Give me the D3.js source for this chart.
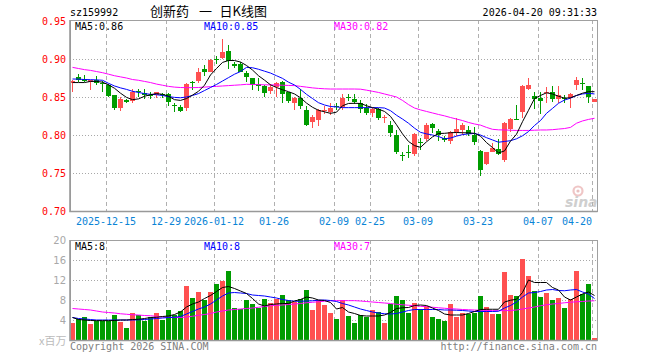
<!DOCTYPE html>
<meta charset="utf-8">
<script src="https://d3js.org/d3.v7.min.js"></script>
<style>
  body { margin: 0; background: #fff; }
  svg text { font-family: "DejaVu Sans Mono", monospace; font-size: 10px; }
</style>
<svg id="kline" width="660" height="360"></svg>

<script>
// trading days shown on the chart
const dates = [
  "2025-12-05","2025-12-08","2025-12-09","2025-12-10","2025-12-11","2025-12-12",
  "2025-12-15","2025-12-16","2025-12-17","2025-12-18","2025-12-19",
  "2025-12-22","2025-12-23","2025-12-24","2025-12-25","2025-12-26",
  "2025-12-29","2025-12-30","2025-12-31",
  "2026-01-05","2026-01-06","2026-01-07","2026-01-08","2026-01-09",
  "2026-01-12","2026-01-13","2026-01-14","2026-01-15","2026-01-16",
  "2026-01-19","2026-01-20","2026-01-21","2026-01-22","2026-01-23",
  "2026-01-26","2026-01-27","2026-01-28","2026-01-29","2026-01-30",
  "2026-02-02","2026-02-03","2026-02-04","2026-02-05","2026-02-06",
  "2026-02-09","2026-02-10","2026-02-11","2026-02-12","2026-02-13",
  "2026-02-24","2026-02-25","2026-02-26","2026-02-27",
  "2026-03-02","2026-03-03","2026-03-04","2026-03-05","2026-03-06",
  "2026-03-09","2026-03-10","2026-03-11","2026-03-12","2026-03-13",
  "2026-03-16","2026-03-17","2026-03-18","2026-03-19","2026-03-20",
  "2026-03-23","2026-03-24","2026-03-25","2026-03-26","2026-03-27",
  "2026-03-30","2026-03-31","2026-04-01","2026-04-02","2026-04-03",
  "2026-04-07","2026-04-08","2026-04-09","2026-04-10",
  "2026-04-13","2026-04-14","2026-04-15","2026-04-16","2026-04-17",
  "2026-04-20"
];

const open = [
  0.868,0.876,0.874,0.870,0.872,0.869,0.866,0.853,0.835,0.846,
  0.845,0.858,0.855,0.853,0.853,0.8535,0.8535,0.840,0.8373,0.836,
  0.8693,0.871,0.8868,0.8833,0.900,0.9009,0.9105,0.893,0.893,0.882,
  0.8754,0.8667,0.865,0.8583,0.8636,0.8702,0.8561,0.8417,0.8482,0.8329,
  0.8167,0.8193,0.8316,0.8307,0.8386,0.8373,0.8496,0.8474,0.8417,0.836,
  0.8294,0.8342,0.8228,0.8132,0.800,0.7737,0.7781,0.775,0.7912,0.7943,
  0.814,0.8053,0.7956,0.7921,0.8022,0.8066,0.8066,0.800,0.7789,0.7614,
  0.7781,0.7816,0.7671,0.8079,0.8211,0.8298,0.8605,0.8513,0.8482,0.8548,
  0.8561,0.8474,0.8491,0.8482,0.8658,0.8689,0.8649,0.8439
];
const high = [
  0.872,0.880,0.879,0.873,0.877,0.871,0.867,0.853,0.850,0.848,
  0.861,0.860,0.860,0.857,0.857,0.855,0.855,0.8417,0.8395,0.868,
  0.871,0.8877,0.892,0.900,0.9044,0.9263,0.919,0.8965,0.8965,0.8842,
  0.8754,0.8746,0.8658,0.8667,0.8693,0.871,0.857,0.8504,0.8605,0.8386,
  0.8263,0.8342,0.8386,0.8417,0.8417,0.8544,0.8535,0.8535,0.846,0.8404,
  0.8351,0.836,0.8263,0.8184,0.8066,0.7772,0.7868,0.8022,0.7956,0.8154,
  0.8154,0.8079,0.7991,0.8053,0.8219,0.8154,0.8123,0.811,0.7803,0.7781,
  0.789,0.7947,0.8167,0.822,0.8395,0.8658,0.8754,0.857,0.8561,0.8636,
  0.8649,0.8649,0.8526,0.8548,0.8768,0.8746,0.8649,0.8474
];
const low = [
  0.857,0.870,0.870,0.859,0.866,0.857,0.850,0.833,0.831,0.842,
  0.842,0.850,0.847,0.847,0.849,0.849,0.8386,0.8307,0.830,0.832,
  0.859,0.868,0.878,0.8825,0.893,0.900,0.8868,0.8877,0.8825,0.8697,
  0.8592,0.8579,0.8504,0.854,0.8504,0.8417,0.8417,0.8329,0.8342,0.8123,
  0.8088,0.8123,0.8276,0.8263,0.8329,0.8329,0.8447,0.8412,0.8294,0.8263,
  0.8241,0.8197,0.8162,0.7978,0.775,0.7658,0.7702,0.7728,0.7803,0.7921,
  0.8022,0.7921,0.7904,0.7877,0.7991,0.800,0.7987,0.7868,0.7465,0.7605,
  0.7772,0.7737,0.764,0.8044,0.8197,0.8228,0.8592,0.8342,0.8272,0.8417,
  0.8439,0.8417,0.8417,0.836,0.8592,0.8592,0.8417,0.8439
];
const close = [
  0.871,0.873,0.871,0.872,0.869,0.868,0.851,0.836,0.847,0.844,
  0.856,0.856,0.853,0.852,0.856,0.852,0.844,0.839,0.832,0.8667,
  0.868,0.8833,0.8833,0.8987,0.8987,0.9096,0.8974,0.891,0.8833,0.8767,
  0.8658,0.8645,0.8557,0.8636,0.868,0.854,0.8447,0.8491,0.8382,0.8132,
  0.8241,0.8329,0.8333,0.8351,0.8368,0.8491,0.8482,0.8439,0.8342,0.8294,
  0.8342,0.8219,0.8241,0.8031,0.7781,0.7724,0.7768,0.8013,0.789,0.8132,
  0.8088,0.800,0.7934,0.8035,0.8079,0.8132,0.8013,0.7904,0.7539,0.7772,
  0.7825,0.7746,0.8154,0.8211,0.8197,0.8649,0.8658,0.8474,0.8452,0.8561,
  0.8469,0.8526,0.8474,0.8535,0.8724,0.8675,0.8496,0.8474
];

// price moving averages as drawn
const ma5 = [
  0.869,0.869,0.869,0.8705,0.8705,0.8695,0.866,0.8615,0.855,0.8495,
  0.8465,0.8475,0.851,0.853,0.8545,0.8535,0.851,0.8465,0.8455,0.848,
  0.8525,0.8575,0.8655,0.879,0.8875,0.8955,0.898,0.898,0.896,0.8915,
  0.8855,0.878,0.8722,0.866,0.8625,0.8595,0.857,0.854,0.849,0.842,
  0.8365,0.8325,0.8305,0.8285,0.830,0.8385,0.8415,0.8417,0.8415,0.8385,
  0.836,0.834,0.831,0.8245,0.8135,0.8015,0.7915,0.786,0.7838,0.791,
  0.7975,0.802,0.8022,0.803,0.8033,0.803,0.8028,0.8022,0.7985,0.790,
  0.7835,0.7765,0.779,0.792,0.801,0.8175,0.8325,0.848,0.852,0.8555,
  0.854,0.851,0.8485,0.849,0.852,0.855,0.857,0.857
];
const ma10 = [
  0.8737,0.8735,0.873,0.8728,0.8725,0.872,0.868,0.8645,0.862,0.860,
  0.8575,0.856,0.8545,0.8535,0.853,0.852,0.8505,0.8495,0.849,0.850,
  0.852,0.8545,0.8585,0.8625,0.8665,0.871,0.8755,0.880,0.8835,0.889,
  0.8885,0.8865,0.884,0.8815,0.878,0.8745,0.8695,0.8658,0.860,0.8535,
  0.848,0.8425,0.8395,0.8375,0.837,0.836,0.836,0.836,0.836,0.836,
  0.836,0.836,0.8355,0.832,0.826,0.821,0.8155,0.809,0.8035,0.8015,
  0.800,0.798,0.795,0.796,0.7985,0.8005,0.8015,0.802,0.800,0.7965,
  0.7935,0.7905,0.7915,0.7925,0.795,0.799,0.8045,0.8125,0.819,0.8285,
  0.835,0.8417,0.846,0.8485,0.852,0.854,0.8548,0.854
];
const ma30 = [
  0.889,0.8875,0.886,0.885,0.8835,0.882,0.880,0.878,0.8765,0.875,
  0.873,0.872,0.8705,0.869,0.867,0.8655,0.864,0.863,0.8625,0.8623,
  0.8623,0.8625,0.863,0.8636,0.864,0.8645,0.865,0.8655,0.866,0.8667,
  0.8665,0.8663,0.866,0.866,0.8658,0.8655,0.8652,0.865,0.864,0.863,
  0.862,0.8613,0.8608,0.8605,0.8605,0.8605,0.8605,0.8605,0.8603,0.859,
  0.8575,0.856,0.854,0.852,0.850,0.8455,0.840,0.8355,0.833,0.831,
  0.829,0.827,0.8252,0.823,0.821,0.819,0.8165,0.8145,0.813,0.810,
  0.8075,0.8068,0.8066,0.8063,0.806,0.806,0.806,0.8063,0.8066,0.8066,
  0.807,0.8078,0.8085,0.810,0.8155,0.8185,0.8205,0.822
];

// volume, millions of shares
const volume = [
  3.47,4.13,4.53,3.2,3.87,3.87,3.9,5.0,3.67,2.47,
  5.47,5.0,3.87,4.53,5.47,4.0,6.0,5.0,5.8,10.8,
  8.4,9.6,8.0,9.6,11.2,11.87,13.8,6.4,6.13,8.0,
  7.2,6.4,8.2,7.33,8.2,9.0,8.0,7.67,8.27,10.0,
  6.0,8.0,7.0,5.47,4.13,8.0,4.8,3.47,5.0,4.53,
  6.0,5.67,3.47,7.2,8.8,8.0,5.47,7.47,6.13,6.8,
  4.67,4.27,3.87,7.2,4.67,5.47,5.2,5.33,8.8,6.67,
  5.2,5.2,13.67,9.0,8.8,16.13,12.8,9.8,8.67,9.47,
  8.0,8.4,6.4,8.13,13.8,9.2,11.2,0.4
];
const volMa5 = [
  4.5,4.1,4.0,3.9,3.87,3.87,3.87,3.9,4.0,4.0,
  4.1,4.15,4.3,4.5,4.55,4.7,4.8,5.1,5.6,6.6,
  7.2,7.6,8.3,8.9,9.7,10.5,10.7,10.3,9.8,9.3,
  8.3,7.2,6.8,7.1,7.2,7.3,7.3,7.8,8.1,8.6,
  8.4,8.0,7.9,7.5,6.2,6.5,5.6,5.3,4.9,4.8,
  4.8,4.8,5.0,5.5,6.3,6.45,6.5,6.9,7.0,6.9,
  6.4,5.9,5.2,5.0,5.0,5.0,5.3,5.7,6.1,6.15,
  6.15,6.15,7.6,7.95,8.15,9.5,12.0,11.5,11.5,11.5,
  10.5,10.0,8.6,8.0,8.6,9.2,9.6,8.9
];
const volMa10 = [
  4.5,4.3,4.2,4.1,4.0,4.0,4.0,4.0,4.0,4.0,
  4.0,4.05,4.1,4.2,4.3,4.4,4.5,4.55,4.7,5.2,
  5.7,6.2,6.6,7.2,8.0,8.8,9.4,9.5,9.4,9.3,
  9.0,8.9,8.8,8.6,8.4,8.1,7.9,7.75,7.75,7.8,
  7.85,7.95,8.0,7.9,7.7,7.3,7.0,6.6,6.2,5.9,
  5.6,5.4,5.25,5.2,5.3,5.6,5.9,6.1,6.1,6.1,
  6.1,6.1,6.0,6.0,5.95,5.9,5.8,5.7,5.7,5.7,
  5.7,5.75,6.4,6.9,7.6,8.6,9.4,9.5,9.7,10.0,
  10.1,9.9,9.85,10.0,10.1,9.6,9.2,8.3
];
const volMa30 = [
  6.3,6.2,6.1,6.0,5.8,5.6,5.5,5.4,5.25,5.15,
  5.05,5.0,4.9,4.85,4.75,4.6,4.55,4.5,4.5,4.6,
  4.75,4.95,5.1,5.3,5.6,5.8,6.0,6.1,6.2,6.3,
  6.4,6.55,6.7,6.85,6.95,7.0,7.1,7.2,7.3,7.45,
  7.55,7.65,7.75,7.85,7.87,7.87,7.87,7.87,7.8,7.7,
  7.6,7.5,7.4,7.3,7.15,7.05,6.95,6.85,6.75,6.65,
  6.55,6.45,6.35,6.25,6.2,6.1,6.05,6.0,5.95,5.9,
  5.87,5.87,5.87,5.9,6.0,6.2,6.4,6.6,6.85,7.05,
  7.2,7.3,7.45,7.55,7.65,7.7,7.8,7.85
];

const priceTicks = [0.70, 0.75, 0.80, 0.85, 0.90, 0.95];
const volTicks = [4, 8, 12, 16, 20];
const dateTicks = ["2025-12-15","2025-12-29","2026-01-12","2026-01-26","2026-02-09",
                   "2026-02-25","2026-03-09","2026-03-23","2026-04-07","2026-04-20"];
const dateTickLabels = ["2025-12-15","12-29","2026-01-12","01-26","02-09",
                        "02-25","03-09","03-23","04-07","04-20"];

const RED = "#ff5050", GREEN = "#009c00";

const svg = d3.select("#kline");
const left = 70, right = 597.5;

const x = d3.scaleBand().domain(dates).range([69, 597]);
const y = d3.scaleLinear().domain([0.70, 0.95]).range([211, 21]);
const yv = d3.scaleLinear().domain([0, 20]).range([340, 240]);

const rows = dates.map((d, i) => ({
  date: d, o: open[i], h: high[i], l: low[i], c: close[i], v: volume[i]
}));
const colorOf = d => d.c >= d.o ? RED : GREEN;

// sina watermark
const wm = svg.append("g");
wm.append("circle").attr("cx", 578).attr("cy", 191).attr("r", 4.5)
  .attr("fill", "none").attr("stroke", "#efc6c6").attr("stroke-width", 2.2);
wm.append("circle").attr("cx", 578).attr("cy", 191).attr("r", 1.6).attr("fill", "#e9c0c0");
wm.append("text").attr("x", 565).attr("y", 207)
  .style("font-family", "'DejaVu Sans', sans-serif").style("font-size", "14px")
  .style("font-weight", "bold").style("font-style", "italic")
  .attr("fill", "#cfcfcf").text("sina");

// grid: horizontal dotted
svg.append("g").selectAll("line")
  .data(priceTicks.slice(1, -1))
  .join("line")
    .attr("x1", left).attr("x2", right)
    .attr("y1", d => Math.round(y(d)) + 0.5).attr("y2", d => Math.round(y(d)) + 0.5)
    .attr("stroke", "#a8a8a8").attr("stroke-dasharray", "1,2");
svg.append("g").selectAll("line")
  .data(volTicks.slice(0, -1))
  .join("line")
    .attr("x1", left).attr("x2", right)
    .attr("y1", d => yv(d) + 0.5).attr("y2", d => yv(d) + 0.5)
    .attr("stroke", "#a8a8a8").attr("stroke-dasharray", "1,2");

// grid: vertical dashed at labelled dates, both panels
[[20, 211], [240, 340]].forEach(([t, b]) => {
  svg.append("g").selectAll("line")
    .data(dateTicks)
    .join("line")
      .attr("x1", d => x(d) + 1.5).attr("x2", d => x(d) + 1.5)
      .attr("y1", t).attr("y2", b)
      .attr("stroke", "#b0b0b0").attr("stroke-dasharray", "4,3");
});

// candles
const candles = svg.append("g").attr("shape-rendering", "crispEdges");
candles.selectAll("rect.wick")
  .data(rows)
  .join("rect")
    .attr("class", "wick")
    .attr("x", d => x(d.date) + 3)
    .attr("width", 1)
    .attr("y", d => y(d.h))
    .attr("height", d => Math.max(1, y(d.l) - y(d.h)))
    .attr("fill", colorOf);
candles.selectAll("rect.body")
  .data(rows)
  .join("rect")
    .attr("class", "body")
    .attr("x", d => x(d.date) + 1)
    .attr("width", 5)
    .attr("y", d => y(Math.max(d.o, d.c)))
    .attr("height", d => Math.max(1, Math.abs(y(d.o) - y(d.c))))
    .attr("fill", colorOf);

// volume bars
svg.append("g").attr("shape-rendering", "crispEdges")
  .selectAll("rect")
  .data(rows)
  .join("rect")
    .attr("x", d => x(d.date) + 1)
    .attr("width", 5)
    .attr("y", d => yv(d.v))
    .attr("height", d => yv(0) - yv(d.v))
    .attr("fill", colorOf);

// moving average lines
const cx = i => x(dates[i]) + 3.5;
const priceLine = d3.line().x((d, i) => cx(i)).y(d => y(d));
const volLine = d3.line().x((d, i) => cx(i)).y(d => yv(d));
[[ma30, "#ff00ff"], [ma10, "#0000ff"], [ma5, "#000000"]].forEach(([s, c]) => {
  svg.append("path").datum(s).attr("d", priceLine)
    .attr("fill", "none").attr("stroke", c).attr("stroke-width", 1);
});
[[volMa30, "#ff00ff"], [volMa10, "#0000ff"], [volMa5, "#000000"]].forEach(([s, c]) => {
  svg.append("path").datum(s).attr("d", volLine)
    .attr("fill", "none").attr("stroke", c).attr("stroke-width", 1);
});

// panel frames
[[20, 211], [240, 340]].forEach(([t, b]) => {
  svg.append("rect").attr("x", left + 0.5).attr("y", t + 0.5)
    .attr("width", right - left - 0.5).attr("height", b - t)
    .attr("fill", "none").attr("stroke", "#a0a0a0");
  svg.append("path").attr("d", `M${left},${t} V${b + 0.5} H${right}`)
    .attr("fill", "none").attr("stroke", "#999").attr("stroke-width", 1.6);
});

// price axis labels
const yAxis = svg.append("g").attr("transform", "translate(67,0)")
  .call(d3.axisLeft(y).tickValues(priceTicks).tickFormat(d3.format(".2f"))
    .tickSize(0).tickPadding(1));
yAxis.select(".domain").remove();
yAxis.selectAll("text").attr("fill", "#ff0000")
  .style("font-family", "'DejaVu Sans Mono', monospace").style("font-size", "10px");

// volume axis labels
const vAxis = svg.append("g").attr("transform", "translate(67,0)")
  .call(d3.axisLeft(yv).tickValues(volTicks).tickSize(0).tickPadding(1));
vAxis.select(".domain").remove();
vAxis.selectAll("text").attr("fill", "#a8a8a8")
  .style("font-family", "'DejaVu Sans', sans-serif").style("font-size", "10px");

// date labels
svg.append("g").selectAll("text")
  .data(dateTicks)
  .join("text")
    .attr("x", d => x(d) + 1)
    .attr("y", 225)
    .attr("text-anchor", (d, i) => i === dateTicks.length - 1 ? "end" : "middle")
    .attr("fill", "#0a84d6")
    .text((d, i) => dateTickLabels[i]);

// header
svg.append("text").attr("x", 70).attr("y", 16).attr("fill", "#000").text("sz159992");
const title = svg.append("text").attr("y", 16).attr("fill", "#000")
  .style("font-family", "'Noto Sans CJK SC', sans-serif").style("font-size", "13px");
title.append("tspan").attr("x", 150).text("创新药");
title.append("tspan").attr("x", 199).text("一");
title.append("tspan").attr("x", 219.5).text("日K线图");
svg.append("text").attr("x", 597).attr("y", 16).attr("text-anchor", "end")
  .attr("fill", "#000").text("2026-04-20 09:31:33");

// legends
const legendX = [75, 204, 334];
const legendColors = ["#000000", "#0000ff", "#ff00ff"];
const priceLegend = ["MA5:0.86", "MA10:0.85", "MA30:0.82"];
const volLegend = ["MA5:8", "MA10:8", "MA30:7"];
[[priceLegend, 30], [volLegend, 250]].forEach(([labels, yy]) => {
  svg.append("g").selectAll("text")
    .data(labels)
    .join("text")
      .attr("x", (d, i) => legendX[i]).attr("y", yy)
      .attr("fill", (d, i) => legendColors[i])
      .text(d => d);
});

// footer
svg.append("text").attr("x", 39).attr("y", 345).attr("fill", "#bbb")
  .style("font-family", "'Noto Sans CJK SC', sans-serif").style("font-size", "11px")
  .text("x百万");
svg.append("text").attr("x", 70).attr("y", 350).attr("fill", "#808080")
  .text("Copyright 2026 SINA.COM");
svg.append("text").attr("x", 597).attr("y", 350).attr("text-anchor", "end")
  .attr("fill", "#808080").text("http://finance.sina.com.cn");
</script>
